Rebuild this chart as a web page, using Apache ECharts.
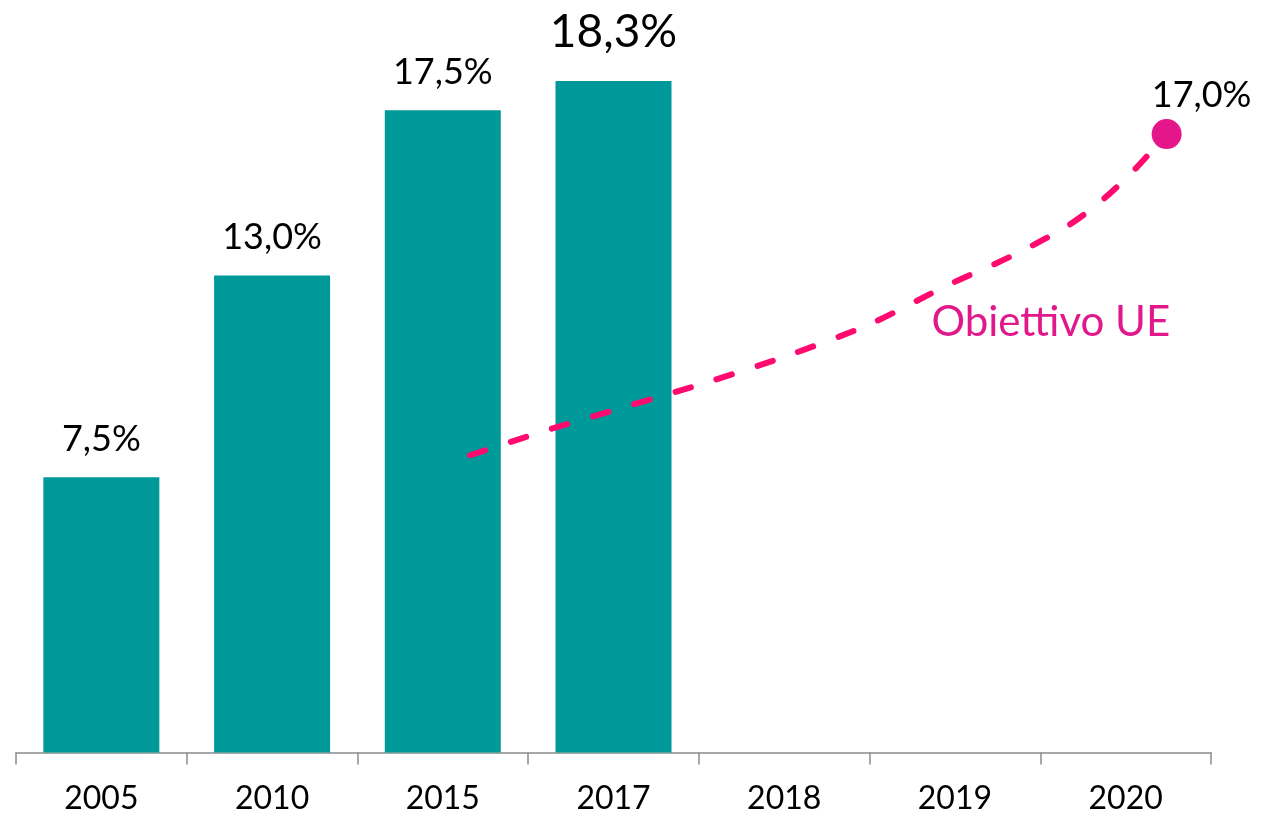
<!DOCTYPE html>
<html>
<head>
<meta charset="utf-8">
<script src="https://cdn.jsdelivr.net/npm/echarts@6/dist/echarts.min.js"></script>
<style>
html,body{margin:0;padding:0;background:#fff;}
#chart{width:1262px;height:819px;}
</style>
</head>
<body>
<div id="chart"></div>
<script>
// Categories (years)
var categories = ['2005', '2010', '2015', '2017', '2018', '2019', '2020'];
// Bar values (%)
var barValues = [7.5, 13.0, 17.5, 18.3, null, null, null];
// EU target path (x in category index units, y in %)
var goalX = [2.16, 2.63, 3.10, 3.57, 4.03, 4.50, 4.97, 5.32, 5.65, 5.85, 6.05, 6.24];
var goalY = [8.10, 8.81, 9.46, 10.12, 10.83, 11.67, 12.76, 13.50, 14.32, 15.00, 15.87, 16.85];
var goalTargetLabel = '17,0%';
var goalName = 'Obiettivo UE';

var FONT = 'Lato, "Open Sans", sans-serif';
var fmt = function (v) { return v.toFixed(1).replace('.', ',') + '%'; };

var barData = barValues.map(function (v, i) {
  if (v === null) return '-';
  var big = (i === 3);
  return {
    value: v,
    label: {
      show: true, position: 'top',
      distance: big ? 26 : 20,
      fontSize: big ? 46 : 36,
      color: '#000', fontFamily: FONT,
      formatter: function (p) { return fmt(p.value); }
    }
  };
});

var curve = goalX.map(function (x, i) { return [x, goalY[i]]; });
var last = curve.length - 1;
var annot = 6;

var chart = echarts.init(document.getElementById('chart'), null, {renderer: 'canvas'});
chart.setOption({
  animation: false,
  backgroundColor: '#fff',
  grid: {left: 16, right: 51, top: 18.5, bottom: 66.5, containLabel: false},
  xAxis: [
    {
      type: 'category', data: categories,
      axisLine: {show: true, lineStyle: {color: '#8c8c8c', width: 1.5}},
      axisTick: {show: true, alignWithLabel: false, length: 12, lineStyle: {color: '#8c8c8c', width: 1.5}},
      axisLabel: {fontSize: 32, color: '#000', fontFamily: FONT, margin: 30},
      splitLine: {show: false}
    },
    {type: 'value', min: -0.5, max: 6.5, show: false}
  ],
  yAxis: {type: 'value', min: 0, max: 20, show: false, splitLine: {show: false}},
  series: [
    {
      type: 'bar', data: barData, barWidth: 116,
      itemStyle: {color: '#009999'},
      xAxisIndex: 0
    },
    {
      type: 'line', xAxisIndex: 1, data: curve, smooth: 0.3,
      symbol: 'none',
      lineStyle: {color: '#FF0A6E', width: 6, type: [16, 27], cap: 'round'},
      markPoint: {
        symbol: 'circle', symbolSize: 0,
        data: [{
          coord: curve[annot],
          label: {
            show: true, position: 'inside', offset: [101, 38],
            formatter: goalName, fontSize: 42, color: '#E0188C', fontFamily: FONT
          }
        }]
      },
      z: 3
    },
    {
      type: 'scatter', xAxisIndex: 1, data: [curve[last]],
      symbol: 'circle', symbolSize: 30,
      itemStyle: {color: '#E5168A', opacity: 1},
      label: {
        show: true, position: 'top', distance: 6, offset: [35, 0],
        formatter: goalTargetLabel, fontSize: 36, color: '#000', opacity: 1, fontFamily: FONT
      },
      z: 4
    }
  ]
});
</script>
</body>
</html>
